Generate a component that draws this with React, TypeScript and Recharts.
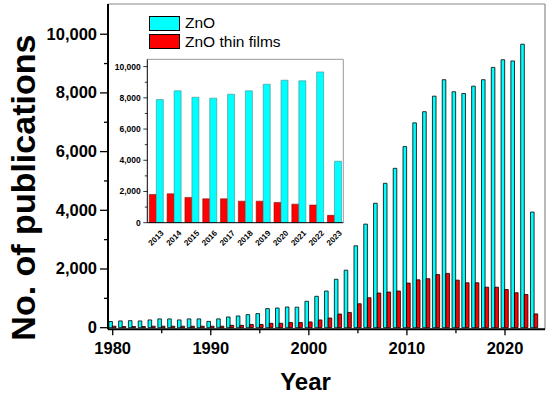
import { BarChart, Bar, XAxis, YAxis, ReferenceLine, Legend } from 'recharts'

const years = [
  1980, 1981, 1982, 1983, 1984, 1985, 1986, 1987, 1988, 1989,
  1990, 1991, 1992, 1993, 1994, 1995, 1996, 1997, 1998, 1999,
  2000, 2001, 2002, 2003, 2004, 2005, 2006, 2007, 2008, 2009,
  2010, 2011, 2012, 2013, 2014, 2015, 2016, 2017, 2018, 2019,
  2020, 2021, 2022, 2023,
]

const znoCounts = [
  210, 230, 240, 230, 265, 300, 300, 265, 300, 300,
  215, 300, 365, 400, 445, 480, 650, 670, 705, 700,
  900, 1070, 1250, 1650, 1960, 2790, 3530, 4240, 4920, 5430,
  6170, 6980, 7360, 7890, 8450, 8040, 7980, 8230, 8450, 8870,
  9130, 9090, 9660, 3940,
]

const thinFilmCounts = [
  50, 40, 40, 40, 50, 50, 50, 50, 50, 50,
  50, 50, 80, 80, 110, 110, 150, 150, 175, 175,
  195, 265, 330, 465, 520, 815, 1020, 1180, 1215, 1250,
  1520, 1630, 1670, 1810, 1850, 1620, 1530, 1530, 1380, 1380,
  1300, 1190, 1130, 470,
]

const mainXTicks = [1980, 1985, 1990, 1995, 2000, 2005, 2010, 2015, 2020]
const mainYTicks = [0, 1000, 2000, 3000, 4000, 5000, 6000, 7000, 8000, 9000, 10000]
const insetYears = [2013, 2014, 2015, 2016, 2017, 2018, 2019, 2020, 2021, 2022, 2023]
const insetYTicks = [0, 1000, 2000, 3000, 4000, 5000, 6000, 7000, 8000, 9000, 10000]

const data = years.map((year, i) => ({ year, zno: znoCounts[i], thin: thinFilmCounts[i] }))
const insetData = data.filter((d) => insetYears.includes(d.year))

const FONT = '"Liberation Sans", Arial, Helvetica, sans-serif'
const fmt = (v: number) => String(v).replace(/\B(?=(\d{3})+(?!\d))/g, ',')

function MainXTick({ x, y, payload }: any) {
  const major = payload.value % 10 === 0
  return (
    <g>
      <line x1={x} x2={x} y1={y} y2={y + (major ? 6 : 4)} stroke="#000" strokeWidth={1.3} />
      {major && (
        <text x={x} y={y + 24.7} textAnchor="middle" fontSize={16.5} fontWeight="bold" fontFamily={FONT} fill="#000">
          {payload.value}
        </text>
      )}
    </g>
  )
}

function MainYTick({ x, y, payload }: any) {
  const major = payload.value % 2000 === 0
  return (
    <g>
      <line x1={x} x2={x - (major ? 8 : 4)} y1={y} y2={y} stroke="#000" strokeWidth={1.3} />
      {major && (
        <text x={x - 11} y={y + 5.5} textAnchor="end" fontSize={16.5} fontWeight="bold" fontFamily={FONT} fill="#000">
          {fmt(payload.value)}
        </text>
      )}
    </g>
  )
}

function InsetXTick({ x, y, payload }: any) {
  return (
    <text
      x={x + 8}
      y={y + 11}
      textAnchor="end"
      fontSize={8}
      fontWeight="bold"
      fontFamily={FONT}
      fill="#000"
      transform={`rotate(-45 ${x + 8} ${y + 11})`}
    >
      {payload.value}
    </text>
  )
}

function InsetYTick({ x, y, payload }: any) {
  const major = payload.value % 2000 === 0
  return (
    <g>
      <line x1={x} x2={x - (major ? 4 : 2.5)} y1={y} y2={y} stroke="#000" strokeWidth={0.8} />
      {major && (
        <text x={x - 6.5} y={y + 3} textAnchor="end" fontSize={8.5} fontWeight="bold" fontFamily={FONT} fill="#000">
          {fmt(payload.value)}
        </text>
      )}
    </g>
  )
}

const renderLegend = ({ payload }: any) => (
  <div style={{ fontFamily: FONT, fontSize: 15.5, color: '#000' }}>
    {(payload || []).map((item: any) => (
      <div key={item.value} style={{ display: 'flex', alignItems: 'center', height: 18.5 }}>
        <span
          style={{
            display: 'inline-block',
            width: 29,
            height: 13,
            background: item.color,
            border: '1px solid #000',
            marginRight: 5,
          }}
        />
        <span>{item.value}</span>
      </div>
    ))}
  </div>
)

export default function App() {
  return (
    <div style={{ position: 'absolute', left: 0, top: 0, width: 550, height: 396, background: '#fff' }}>
      <BarChart
        width={550}
        height={396}
        data={data}
        margin={{ top: 4, right: 5, bottom: 0, left: 0 }}
        barGap={0}
        barSize={3.6}
      >
        <XAxis
          dataKey="year"
          type="number"
          domain={[1979.52, 2024.08]}
          allowDataOverflow
          ticks={mainXTicks}
          interval={0}
          height={66.7}
          tickSize={0}
          tickMargin={0}
          tickLine={false}
          axisLine={{ stroke: '#000', strokeWidth: 2 }}
          tick={<MainXTick />}
          label={({ viewBox }: any) => (
            <text
              x={viewBox.x + viewBox.width / 2 - 21}
              y={viewBox.y + 60.7}
              textAnchor="middle"
              fontSize={24}
              fontWeight="bold"
              fontFamily={FONT}
              fill="#000"
            >
              Year
            </text>
          )}
        />
        <YAxis
          domain={[-55, 11030]}
          allowDataOverflow
          ticks={mainYTicks}
          interval={0}
          width={108}
          tickSize={0}
          tickMargin={0}
          tickLine={false}
          axisLine={{ stroke: '#000', strokeWidth: 2 }}
          tick={<MainYTick />}
          label={({ viewBox }: any) => (
            <text
              x={35}
              y={viewBox.y + viewBox.height / 2 + 21}
              textAnchor="middle"
              fontSize={34}
              fontWeight="bold"
              fontFamily={FONT}
              fill="#000"
              transform={`rotate(-90 35 ${viewBox.y + viewBox.height / 2 + 21})`}
            >
              No. of publications
            </text>
          )}
        />
        <ReferenceLine y={11030} stroke="#8a8a8a" strokeWidth={1.2} ifOverflow="visible" />
        <ReferenceLine x={2024.08} stroke="#8a8a8a" strokeWidth={1.2} ifOverflow="visible" />
        <Bar dataKey="zno" name="ZnO" fill="#00FFFF" stroke="#000" strokeWidth={0.8} isAnimationActive={false} />
        <Bar dataKey="thin" name="ZnO thin films" fill="#FF0000" stroke="#000" strokeWidth={0.8} isAnimationActive={false} />
        <Legend
          layout="vertical"
          align="center"
          verticalAlign="middle"
          content={renderLegend}
          wrapperStyle={{ left: 149, top: 14, width: 'auto' }}
        />
      </BarChart>

      <div style={{ position: 'absolute', left: 100, top: 50 }}>
        <BarChart
          width={250}
          height={210}
          data={insetData}
          margin={{ top: 9.3, right: 6.7, bottom: 0, left: 0 }}
          barGap={0}
          barSize={7}
        >
          <XAxis
            dataKey="year"
            type="number"
            domain={[2012.5, 2023.5]}
            allowDataOverflow
            ticks={insetYears}
            interval={0}
            height={37.3}
            tickSize={0}
            tickMargin={0}
            tickLine={false}
            axisLine={{ stroke: '#000', strokeWidth: 1 }}
            tick={<InsetXTick />}
          />
          <YAxis
            domain={[0, 10470]}
            allowDataOverflow
            ticks={insetYTicks}
            interval={0}
            width={47.3}
            tickSize={0}
            tickMargin={0}
            tickLine={false}
            axisLine={{ stroke: '#000', strokeWidth: 1 }}
            tick={<InsetYTick />}
          />
          <ReferenceLine y={10470} stroke="#999" strokeWidth={1} ifOverflow="visible" />
          <ReferenceLine x={2023.5} stroke="#999" strokeWidth={1} ifOverflow="visible" />
          <Bar dataKey="thin" name="ZnO thin films" fill="#FF0000" stroke="#7a1010" strokeWidth={0.6} isAnimationActive={false} />
          <Bar dataKey="zno" name="ZnO" fill="#00FFFF" stroke="#4a8a8a" strokeWidth={0.6} isAnimationActive={false} />
        </BarChart>
      </div>
    </div>
  )
}
